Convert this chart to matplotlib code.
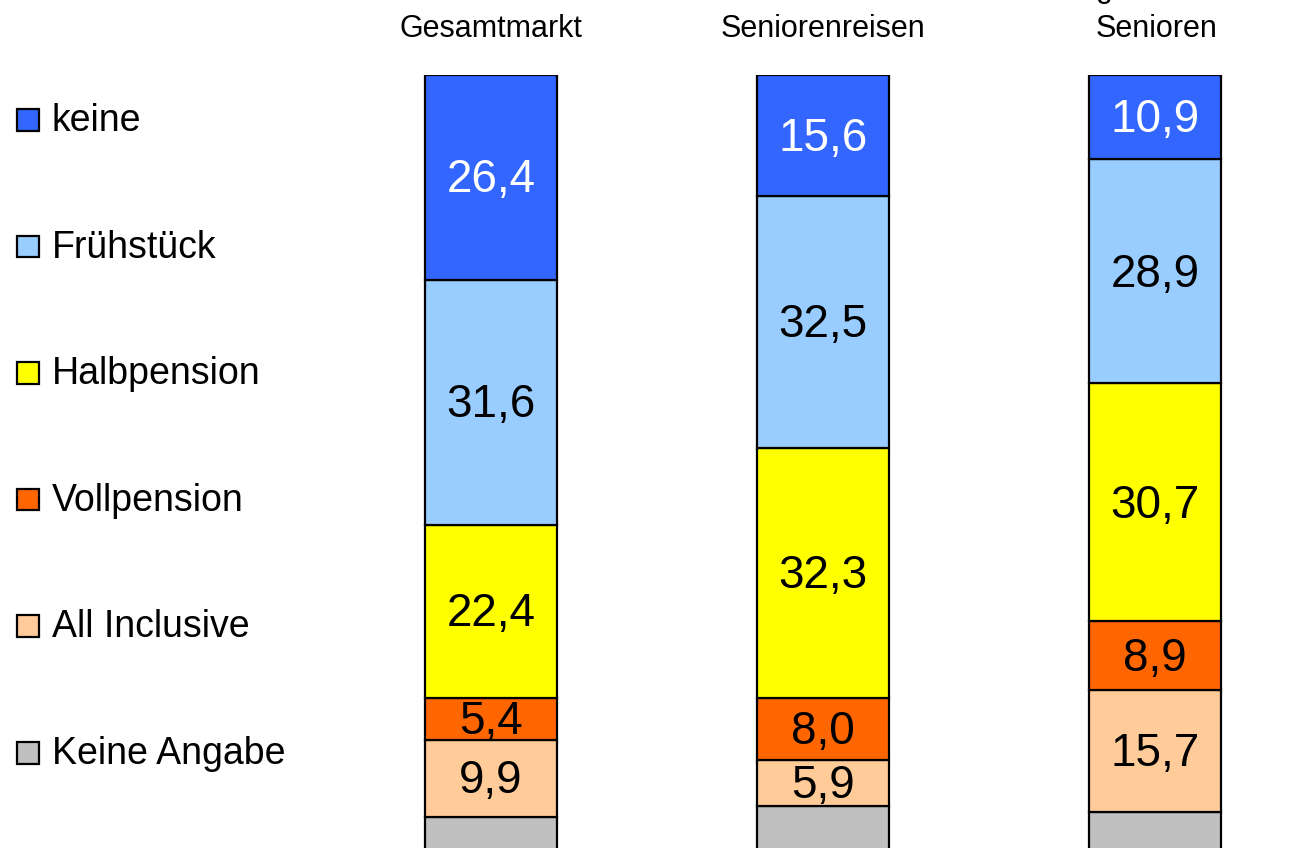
import matplotlib.pyplot as plt
from matplotlib.patches import Rectangle
import numpy as np

plt.rcParams['font.family'] = ['Liberation Sans', 'DejaVu Sans']

columns = ['Gesamtmarkt', 'Seniorenreisen', 'Organisierte\nSenioren']
categories = ['keine', 'Frühstück', 'Halbpension', 'Vollpension',
              'All Inclusive', 'Keine Angabe']
colors = ['#3366FF', '#99CCFF', '#FFFF00', '#FF6600', '#FFCC99', '#C0C0C0']

# shares in percent per column, top to bottom in the stack
keine = [26.4, 15.6, 10.9]
fruehstueck = [31.6, 32.5, 28.9]
halbpension = [22.4, 32.3, 30.7]
vollpension = [5.4, 8.0, 8.9]
all_inclusive = [9.9, 5.9, 15.7]
keine_angabe = [4.3, 5.7, 4.9]

series = [keine, fruehstueck, halbpension, vollpension, all_inclusive, keine_angabe]

W, H = 1302, 848
fig = plt.figure(figsize=(W / 100, H / 100), dpi=100)

def fx(x):
    return x / W

def fy(y):
    return 1 - y / H

ax = fig.add_axes([fx(325), 0, fx(977), fy(75)])
x = np.arange(len(columns))

# stack from the bottom up: last category sits at the bottom
bottom = np.zeros(len(columns))
for i in range(len(series) - 1, -1, -1):
    vals = np.array(series[i])
    ax.bar(x, vals, 0.4, bottom=bottom, color=colors[i],
           edgecolor='black', linewidth=1.6)
    if i < len(series) - 1:
        for xi, v, b in zip(x, vals, bottom):
            txt = f'{v:.1f}'.replace('.', ',')
            # nudge a little down so the digits, not the comma, sit centred
            ax.text(xi, b + v / 2 - 0.4, txt, ha='center', va='center',
                    fontsize=33, color='white' if i == 0 else 'black')
    bottom += vals

ax.set_xlim(-0.5, -0.5 + 977 / 332)
ax.set_ylim(0.26, 100)
ax.axis('off')

# column headers above the bars
for xi, name in zip([491, 823, 1157], columns):
    lines = name.split('\n')
    fig.text(fx(xi), fy(37), lines[-1], ha='center', va='baseline', fontsize=22)
    if len(lines) > 1:
        fig.text(fx(xi - 12), fy(-3), lines[0], ha='center', va='baseline', fontsize=22)

# legend on the left
for i, (lab, col) in enumerate(zip(categories, colors)):
    yc = 120 + i * 126.6
    fig.patches.append(Rectangle((fx(17), fy(yc + 10.5)), fx(22), 21.5 / H,
                                 transform=fig.transFigure, facecolor=col,
                                 edgecolor='black', linewidth=1.6))
    fig.text(fx(52), fy(yc + 11), lab, ha='left', va='baseline', fontsize=27)

fig.savefig('out.png', dpi=100)
